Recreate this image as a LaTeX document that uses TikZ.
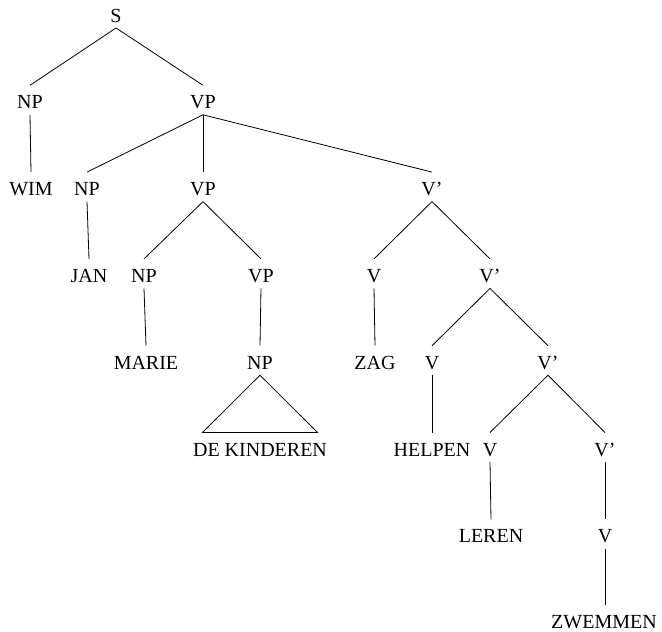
\documentclass[tikz,border=0pt]{standalone}
\usepackage{fontspec}
\setmainfont{Liberation Serif}
\begin{document}
\begin{tikzpicture}[x=1pt,y=1pt,
  lbl/.style={inner sep=0pt, anchor=base, font=\fontsize{20}{24}\selectfont},
  br/.style={line width=0.8pt}]
\useasboundingbox (0,0) rectangle (662,-632);
% level 0
\node[lbl] (s) at (116,-22) {S};
% level 1
\node[lbl] (np1) at (30,-108.8) {NP};
\node[lbl] (vp1) at (203,-108.8) {VP};
% level 2
\node[lbl] (wim) at (31,-195.6) {WIM};
\node[lbl] (np2) at (87,-195.6) {NP};
\node[lbl] (vp2) at (203,-195.6) {VP};
\node[lbl] (vb1) at (432,-195.6) {V'};
% level 3
\node[lbl] (jan) at (89,-282.4) {JAN};
\node[lbl] (np3) at (144,-282.4) {NP};
\node[lbl] (vp3) at (261,-282.4) {VP};
\node[lbl] (v2) at (374,-282.4) {V};
\node[lbl] (vb2) at (490,-282.4) {V'};
% level 4
\node[lbl] (marie) at (146,-369.2) {MARIE};
\node[lbl] (np4) at (260,-369.2) {NP};
\node[lbl] (zag) at (375,-369.2) {ZAG};
\node[lbl] (v3) at (432,-369.2) {V};
\node[lbl] (vb3) at (548,-369.2) {V'};
% level 5
\node[lbl] (dk) at (260,-456) {DE KINDEREN};
\node[lbl] (helpen) at (432,-456) {HELPEN};
\node[lbl] (v4) at (490,-456) {V};
\node[lbl] (vb4) at (605,-456) {V'};
% level 6
\node[lbl] (leren) at (491,-542.8) {LEREN};
\node[lbl] (v5) at (605,-542.8) {V};
% level 7
\node[lbl] (zw) at (604,-628) {ZWEMMEN};
% branches
\foreach \p/\c in {s/np1, s/vp1, np1/wim, vp1/np2, vp1/vp2, vp1/vb1,
  np2/jan, vp2/np3, vp2/vp3, vb1/v2, vb1/vb2,
  np3/marie, vp3/np4, v2/zag, vb2/v3, vb2/vb3,
  v3/helpen, vb3/v4, vb3/vb4, v4/leren, vb4/v5}
  \draw[br] ([yshift=-6]\p.base) -- ([yshift=23.5]\c.base);
\draw[br] ([yshift=-6]v5.base) -- ([xshift=1,yshift=23.5]zw.base);
% triangle
\draw[br] ([yshift=-6]np4.base) -- ([xshift=-57.5,yshift=23.5]dk.base)
  -- ([xshift=57.5,yshift=23.5]dk.base) -- cycle;
\end{tikzpicture}
\end{document}
